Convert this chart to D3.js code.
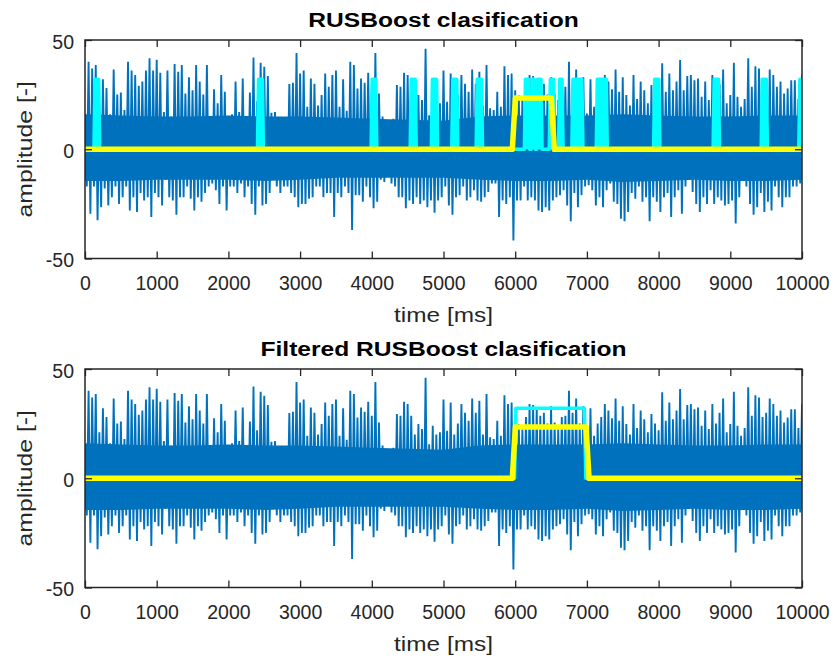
<!DOCTYPE html>
<html>
<head>
<meta charset="utf-8">
<script src="https://d3js.org/d3.v7.min.js"></script>
<style>
  body { margin: 0; background: #fff; }
  text { font-family: "Liberation Sans", Arial, Helvetica, sans-serif; fill: #262626; }
</style>
</head>
<body>
<script>
// signal envelope, one pair of values every 50 ms (peak up / peak down)
const binMs = 50
const sigHi = [
  15,40,37,38.5,21,32,28,16,36.5,25,26,18,40,36,34,29,31,36,41.6,36,41,35,17,36,15,39,35.5,38.5,25.5,33,27,38.5,31,25,38.5,
  14,27.4,21,34,26.3,15,16,31,17,32.4,14,26,42,22,39.6,37.8,33.5,16.7,17,14,14,13.3,29.8,30.4,44,34.7,36,19.4,32.4,30,20,24.8,34.7,
  28.6,34,36,19.4,32,17.6,40,38.5,27.8,32.4,30.4,35,28.6,44,25.5,15,13.3,12.5,14,29.4,28.6,35,34,28.6,20,24.8,22.5,46,15.6,24,20,21,36,
  21.7,34.7,20,25,34,30,26.3,36.5,30,35.5,20,38.5,18.7,18,26.3,19.4,38,34,34.7,27,24.8,22.5,28,34,33.5,32.4,28.6,30,25,33,25.5,22.5,28,28.6,
  40,30,36.5,25,33,16.4,32,19.4,25,28,34,31,27.4,36.5,26.3,33,24.8,20,34,23,31,27,21,29.4,25,22,39.3,26.3,34.7,27,31,40.8,27,
  33.5,34,31.6,32.4,24,31,22.5,34,25,30,36.5,21,24.8,39.6,24,19.4,23,41.6,28.6,38,37,28,30,36.5,34,28.6,31,25.5,27.8,31.6,31.6,23,34
]
const sigLo = [
  -17,-29.5,-17,-32.5,-26.5,-18,-25.7,-22,-17,-25,-22,-17,-28,-22,-28.7,-20,-23.4,-22,-31,-20,-22,-25.7,-14,-22,-23.4,-30,-22,-22,-17,-22.6,-28,-22,-24,-20,-17,
  -15.7,-18.8,-25,-17,-28,-17,-17,-20,-15.7,-22,-17,-25,-30,-17,-25.7,-25,-20,-14,-17,-20,-17,-17,-20,-22,-26.5,-25,-25,-22.6,-22,-17,-17,-22,-20,
  -20,-31,-20,-22,-17,-20,-37,-21,-21,-24,-17,-22,-27,-24,-14,-15,-12.7,-15.7,-17,-22,-22,-27,-23.4,-25,-22,-25,-23.4,-26.5,-23.4,-29,-23.4,-22,-17,
  -25.7,-30,-22,-21,-17,-23.4,-22,-18.8,-23.4,-24,-22,-19.6,-15.7,-15.7,-31,-23.4,-25,-22,-41.7,-23.4,-23.4,-17,-23.4,-22,-23.4,-28,-28.7,-26.5,-28,-23.4,-22,-21,-18.8,-25.7,
  -33,-20,-26.5,-21,-17,-16.5,-18.8,-25.7,-22,-26.5,-18.8,-15.7,-24,-25,-31.8,-33,-28.7,-20,-22.6,-17,-24,-22,-33,-22,-24,-28.7,-22,-20,-31,-22,-18.8,-29.5,-17,
  -14,-19.6,-25,-28.7,-22,-25,-18.8,-25,-22,-23.4,-25.7,-25,-23.4,-34,-22,-14,-17,-25,-30,-26.5,-20,-28.7,-24,-28,-17,-22,-26.5,-22,-22,-17,-17,-15.7,-19.6
]
// dense core of the signal, every 500 ms
const coreMs = 500
const coreHi = [16,15.5,15,15,15.5,15,15,14.5,14,13.5,13,15,15.5,15.5,15.5,16,15.5,15,15,15.5,15.5]
const coreLo = [-14.5,-14.5,-14,-14,-14,-14.5,-14,-13,-13,-13,-13,-14,-14.5,-14.5,-14,-15,-14.5,-14,-14.5,-14.5,-14]

// classifier output (cyan) pulses, ms
const cyanTopStart = [125,2405,3990,4535,4830,5115,5455,6128,6225,6300,6475,6605,6790,7130,7930,8760,9430,9955]
const cyanTopEnd   = [205,2488,4070,4620,4918,5200,5545,6200,6280,6375,6550,6668,6945,7285,8018,8850,9518,10000]
const cyanBotStart = [5990]
const cyanBotEnd   = [6985]
const cyanLevel = 32

// reference label (yellow) pulses, ms
const yellowTopStart = [5960]
const yellowTopEnd   = [6545]
const yellowBotStart = [5960]
const yellowBotEnd   = [7030]
const yellowLevel = 23.5

const xTicks = [0,1000,2000,3000,4000,5000,6000,7000,8000,9000,10000]
const yTicks = [-50,0,50]
const titles = ["RUSBoost clasification", "Filtered RUSBoost clasification"]

let width = 834, height = 659
let margin = {left: 85, right: 32}
let axTop = [40, 369]
let axH = 218.5

let svg = d3.select("body").append("svg").attr("width", width).attr("height", height)

let x = d3.scaleLinear().domain([0, 10000]).range([margin.left, width - margin.right])

// signal points: peak up at bin start, peak down half a bin later
let sigPts = []
sigHi.forEach((v, i) => {
  sigPts.push([i * binMs, v])
  sigPts.push([i * binMs + binMs / 2, sigLo[i]])
})

function pulses(starts, ends, level, ramp) {
  let pts = [[0, 0]]
  starts.forEach((s, i) => {
    let e = ends[i]
    pts.push([s, 0], [s + ramp, level])
    if (e >= 10000) { pts.push([10000, level]) }
    else { pts.push([e - ramp, level], [e, 0]) }
  })
  if (pts[pts.length - 1][1] == 0) pts.push([10000, 0])
  return pts
}

let panels = [
  {title: titles[0], top: axTop[0], cyan: pulses(cyanTopStart, cyanTopEnd, cyanLevel, 15), cyanFill: true,
   yellow: pulses(yellowTopStart, yellowTopEnd, yellowLevel, 42)},
  {title: titles[1], top: axTop[1], cyan: pulses(cyanBotStart, cyanBotEnd, cyanLevel, 20), cyanFill: false,
   yellow: pulses(yellowBotStart, yellowBotEnd, yellowLevel, 42)}
]

panels.forEach((p, k) => {
  let y = d3.scaleLinear().domain([-50, 50]).range([p.top + axH, p.top])
  let g = svg.append("g")

  g.append("clipPath").attr("id", "clip" + k)
    .append("rect").attr("x", x(0)).attr("y", p.top).attr("width", x(10000) - x(0)).attr("height", axH)
  let plot = g.append("g").attr("clip-path", "url(#clip" + k + ")")

  // dense core
  plot.append("path")
    .datum(coreHi.map((v, i) => [i * coreMs, v, coreLo[i]]))
    .attr("fill", "#0072BD")
    .attr("d", d3.area().x(d => x(d[0])).y0(d => y(d[2])).y1(d => y(d[1])))

  // spikes
  plot.append("path")
    .datum(sigPts)
    .attr("fill", "none")
    .attr("stroke", "#0072BD")
    .attr("stroke-width", 1.9)
    .attr("d", d3.line().x(d => x(d[0])).y(d => y(d[1])))

  if (p.cyanFill) {
    plot.append("path")
      .datum(p.cyan)
      .attr("fill", "#00FFFF")
      .attr("d", d3.area().x(d => x(d[0])).y0(y(0)).y1(d => y(d[1])))
  }
  plot.append("path")
    .datum(p.cyan)
    .attr("fill", "none")
    .attr("stroke", "#00FFFF")
    .attr("stroke-width", 3.5)
    .attr("stroke-linejoin", "round")
    .attr("d", d3.line().x(d => x(d[0])).y(d => y(d[1])))

  plot.append("path")
    .datum(p.yellow)
    .attr("fill", "none")
    .attr("stroke", "#FFFF00")
    .attr("stroke-width", 5.5)
    .attr("stroke-linejoin", "round")
    .attr("d", d3.line().x(d => x(d[0])).y(d => y(d[1])))

  // axes, ticks inside like matlab
  let ax = g.append("g").attr("class", "axes")
  ax.append("g").attr("transform", "translate(0," + (p.top + axH) + ")")
    .call(d3.axisBottom(x).tickValues(xTicks).tickFormat(d => String(d)).tickSizeInner(-7).tickSizeOuter(0).tickPadding(18))
  ax.append("g").attr("transform", "translate(0," + p.top + ")")
    .call(d3.axisTop(x).tickValues(xTicks).tickFormat("").tickSizeInner(-7).tickSizeOuter(0))
  let left = ax.append("g").attr("transform", "translate(" + x(0) + ",0)")
    .call(d3.axisLeft(y).tickValues(yTicks).tickFormat(d => String(d)).tickSizeInner(-7).tickSizeOuter(0).tickPadding(11))
  ax.append("g").attr("transform", "translate(" + x(10000) + ",0)")
    .call(d3.axisRight(y).tickValues(yTicks).tickFormat("").tickSizeInner(-7).tickSizeOuter(0))

  ax.selectAll(".domain").remove()
  ax.selectAll(".tick line").attr("stroke", "#262626").attr("stroke-width", 1.3)
  ax.selectAll(".tick text").attr("font-size", 19.5).attr("fill", "#262626")
    .attr("font-family", "'Liberation Sans', Arial, sans-serif")
  left.selectAll("text").attr("dy", "0.42em")

  ax.append("rect")
    .attr("x", x(0)).attr("y", p.top)
    .attr("width", x(10000) - x(0)).attr("height", axH)
    .attr("fill", "none").attr("stroke", "#262626").attr("stroke-width", 1.5)

  // title and labels (source picture is a bit stretched horizontally)
  let cx = (x(0) + x(10000)) / 2
  g.append("text")
    .attr("transform", "translate(" + cx + "," + (p.top - 12.7) + ") scale(1.2,1)")
    .attr("text-anchor", "middle")
    .attr("font-size", 20.5).attr("font-weight", "bold")
    .style("fill", "#000")
    .text(p.title)
  g.append("text")
    .attr("transform", "translate(" + cx + "," + (p.top + axH + 63) + ") scale(1.22,1)")
    .attr("text-anchor", "middle")
    .attr("font-size", 20)
    .text("time [ms]")
  g.append("text")
    .attr("transform", "translate(32," + (p.top + axH / 2) + ") rotate(-90) scale(1.24,1)")
    .attr("text-anchor", "middle")
    .attr("font-size", 20)
    .text("amplitude [-]")
})
</script>
</body>
</html>
